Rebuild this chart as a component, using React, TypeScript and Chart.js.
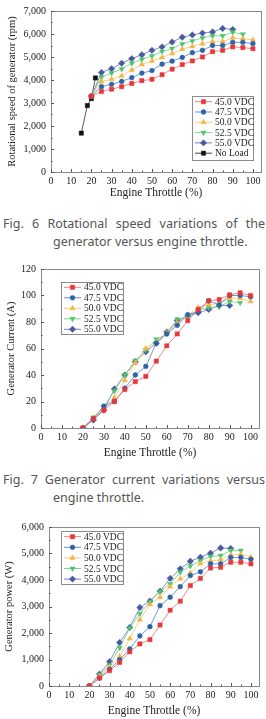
import React, { useEffect, useRef } from 'react';
import { Chart, registerables } from 'chart.js';
import { drawPoint } from 'chart.js/helpers';

Chart.register(...registerables);

// ---------- DATA ----------
const throttleNoLoad = [15, 18, 20, 22];
const throttle = [20, 25, 30, 35, 40, 45, 50, 55, 60, 65, 70, 75, 80, 85, 90, 95, 100];
const seriesLabels = ['45.0 VDC', '47.5 VDC', '50.0 VDC', '52.5 VDC', '55.0 VDC'];
const noLoadLabel = 'No Load';

// Fig. 6 rotational speed (rpm)
const rpmNoLoad = [1690, 2890, 3190, 4090];
const rpm450 = [3300, 3500, 3600, 3710, 3850, 3970, 4030, 4230, 4470, 4670, 4830, 5000, 5230, 5290, 5440, 5410, 5360];
const rpm475 = [3300, 3710, 3810, 3940, 4100, 4300, 4410, 4690, 4820, 4980, 5190, 5290, 5500, 5500, 5640, 5640, 5580];
const rpm500 = [3300, 3930, 4030, 4180, 4430, 4670, 4830, 4980, 5150, 5340, 5460, 5580, 5670, 5670, 5840, 5800, 5740];
const rpm525 = [3300, 4130, 4300, 4480, 4730, 4900, 5040, 5240, 5370, 5570, 5700, 5830, 5920, 5920, 6080, 5990];
const rpm550 = [3300, 4330, 4490, 4730, 4930, 5100, 5290, 5440, 5650, 5860, 5960, 6040, 6090, 6240, 6200];

// Fig. 7 generator current (A)
const cur450 = [0, 7, 13.5, 20, 29, 35, 39, 50.5, 62, 71, 81, 89.5, 96, 97, 100.5, 102, 100];
const cur475 = [0, 7, 16.5, 20, 30, 40, 46.5, 64, 71, 77.5, 85.5, 88, 96, 93, 100, 100, 99];
const cur500 = [0, 8, 15, 23, 36, 49, 60, 65, 72, 79, 85, 91, 93, 94, 98, 98, 95.5];
const cur525 = [0, 8, 16, 28, 40, 51, 59, 67, 71, 82, 84, 89, 91, 91.5, 95.5, 94.5];
const cur550 = [0, 6, 13.5, 29.5, 40, 50, 57.5, 64, 72.5, 81, 84.5, 87, 89.5, 92.5, 92.5];

// Fig. 8 generator power (W)
const pow450 = [0, 300, 580, 890, 1290, 1590, 1750, 2300, 2860, 3200, 3790, 4060, 4450, 4480, 4670, 4670, 4610];
const pow475 = [0, 300, 630, 990, 1400, 1890, 2240, 3030, 3350, 3750, 4170, 4310, 4610, 4610, 4850, 4850, 4780];
const pow500 = [0, 370, 710, 1120, 1790, 2500, 3080, 3350, 3750, 4050, 4260, 4620, 4720, 4770, 4940, 4970, 4860];
const pow525 = [0, 420, 780, 1440, 2190, 2730, 3180, 3570, 3850, 4290, 4530, 4730, 4890, 4920, 5110, 5110];
const pow550 = [0, 450, 920, 1640, 2210, 2960, 3210, 3580, 4060, 4420, 4710, 4860, 5010, 5210, 5190];

const xTickValues = [0, 10, 20, 30, 40, 50, 60, 70, 80, 90, 100];
const xTitle = 'Engine Throttle (%)';

// ---------- STYLES ----------
const styles = [
  { color: '#e8363a', line: 'rgba(240,120,120,0.95)', pointStyle: 'rect', rotation: 0, radius: 3 },
  { color: '#2c63a8', line: 'rgba(90,140,200,0.95)', pointStyle: 'circle', rotation: 0, radius: 2.4 },
  { color: '#f5b443', line: 'rgba(247,200,120,0.95)', pointStyle: 'triangle', rotation: 0, radius: 3 },
  { color: '#4cc46e', line: 'rgba(120,210,140,0.95)', pointStyle: 'triangle', rotation: 180, radius: 3 },
  { color: '#4a5a9e', line: 'rgba(110,125,185,0.95)', pointStyle: 'rectRot', rotation: 0, radius: 3.2 },
  { color: '#111111', line: 'rgba(60,60,60,0.95)', pointStyle: 'rect', rotation: 0, radius: 3 },
];

const SERIF = '"Liberation Serif", "Times New Roman", serif';

function ds(label: string, xs: number[], ys: number[], s: any) {
  return {
    label,
    data: ys.map((v, i) => ({ x: xs[i], y: v })),
    borderColor: s.line,
    borderWidth: 0.9,
    pointBackgroundColor: s.color,
    pointBorderColor: s.color,
    pointBorderWidth: 0.5,
    pointStyle: s.pointStyle,
    pointRotation: s.rotation,
    pointRadius: s.radius,
    tension: 0,
    fill: false,
  };
}

const framePlugin = {
  id: 'frameTicks',
  beforeDatasetsDraw(chart: any) {
    const { ctx, chartArea: a } = chart;
    const xs = chart.scales.x;
    const ys = chart.scales.y;
    ctx.save();
    ctx.strokeStyle = '#8a8a8a';
    ctx.lineWidth = 1;
    ctx.strokeRect(Math.round(a.left) + 0.5, Math.round(a.top) + 0.5, Math.round(a.right - a.left), Math.round(a.bottom - a.top));
    ctx.strokeStyle = '#555';
    ctx.beginPath();
    for (let v = 0; v <= 100; v += 5) {
      const px = Math.round(xs.getPixelForValue(v)) + 0.5;
      const len = v % 10 === 0 ? 3 : 1.5;
      ctx.moveTo(px, a.bottom);
      ctx.lineTo(px, a.bottom - len);
    }
    const step = ys.options.ticks.stepSize;
    for (let v = 0; v <= ys.max + 1e-9; v += step / 2) {
      const py = Math.round(ys.getPixelForValue(v)) + 0.5;
      const major = Math.abs((v / step) - Math.round(v / step)) < 1e-6;
      ctx.moveTo(a.left, py);
      ctx.lineTo(a.left + (major ? 3 : 1.5), py);
    }
    ctx.stroke();
    ctx.restore();
  },
};

const legendPlugin = {
  id: 'boxLegend',
  afterDraw(chart: any, _args: any, o: any) {
    const { ctx, chartArea: a } = chart;
    const bx = Math.round(a.left + o.dx);
    const by = Math.round(a.top + o.dy);
    ctx.save();
    ctx.fillStyle = '#ffffff';
    ctx.fillRect(bx, by, o.w, o.h);
    ctx.strokeStyle = '#8a8a8a';
    ctx.lineWidth = 1;
    ctx.strokeRect(bx + 0.5, by + 0.5, o.w, o.h);
    chart.data.datasets.forEach((d: any, i: number) => {
      const y = by + o.first + i * o.row;
      ctx.strokeStyle = d.borderColor;
      ctx.lineWidth = 1;
      ctx.beginPath();
      ctx.moveTo(bx + 3, y);
      ctx.lineTo(bx + 20, y);
      ctx.stroke();
      ctx.fillStyle = d.pointBackgroundColor;
      ctx.strokeStyle = d.pointBorderColor;
      ctx.lineWidth = 0.5;
      drawPoint(ctx, { pointStyle: d.pointStyle, rotation: d.pointRotation || 0, radius: d.pointRadius, borderWidth: 0.5 } as any, bx + 11.5, y);
      ctx.fillStyle = '#222';
      ctx.font = '9.5px ' + SERIF;
      ctx.textAlign = 'left';
      ctx.textBaseline = 'middle';
      ctx.fillText(d.label, bx + 23, y + 0.5);
    });
    ctx.restore();
  },
};

type Spec = {
  datasets: any[];
  yMax: number;
  yStep: number;
  yTitle: string;
  canvasTop: number;
  canvasH: number;
  plotLeft: number;
  plotRight: number;
  padTop: number;
  plotBottom: number;
  yTitlePad: number;
  xTitlePad: number;
  legend: { dx: number; dy: number; w: number; h: number; first: number; row: number };
};

function makeConfig(p: Spec): any {
  return {
    type: 'line',
    data: { datasets: p.datasets },
    plugins: [framePlugin, legendPlugin],
    options: {
      responsive: false,
      animation: false,
      devicePixelRatio: 1,
      layout: { padding: { top: p.padTop, right: 266 - p.plotRight, left: 0, bottom: 0 } },
      plugins: {
        legend: { display: false },
        tooltip: { enabled: false },
        boxLegend: p.legend,
      },
      scales: {
        x: {
          type: 'linear',
          min: 0,
          max: 104,
          grid: { display: false, drawTicks: false },
          border: { display: false },
          afterBuildTicks: (s: any) => {
            s.ticks = xTickValues.map((v) => ({ value: v }));
          },
          afterFit: (s: any) => {
            s.height = p.canvasH - p.plotBottom;
          },
          ticks: { stepSize: 10, padding: 3, color: '#222', font: { family: SERIF, size: 10 } },
          title: {
            display: true,
            text: xTitle,
            color: '#222',
            padding: { top: 0, bottom: p.xTitlePad },
            font: { family: SERIF, size: 11.5 },
          },
        },
        y: {
          type: 'linear',
          min: 0,
          max: p.yMax,
          grid: { display: false, drawTicks: false },
          border: { display: false },
          afterFit: (s: any) => {
            s.width = p.plotLeft;
          },
          ticks: { stepSize: p.yStep, padding: 5, color: '#222', font: { family: SERIF, size: 10 } },
          title: {
            display: true,
            text: p.yTitle,
            color: '#222',
            padding: { top: p.yTitlePad, bottom: 0 },
            font: { family: SERIF, size: 10.5 },
          },
        },
      },
    },
  };
}

function ChartCanvas({ spec }: { spec: Spec }) {
  const ref = useRef<HTMLCanvasElement | null>(null);
  useEffect(() => {
    if (!ref.current) return;
    const chart = new Chart(ref.current, makeConfig(spec));
    return () => chart.destroy();
  }, []);
  return (
    <canvas
      ref={ref}
      width={266}
      height={spec.canvasH}
      style={{ position: 'absolute', left: 0, top: spec.canvasTop, width: 266, height: spec.canvasH }}
    />
  );
}

const vdcSets = (arrs: number[][]) =>
  arrs.map((a, i) => ds(seriesLabels[i], throttle, a, styles[i]));

const spec1: Spec = {
  datasets: [
    ...vdcSets([rpm450, rpm475, rpm500, rpm525, rpm550]),
    ds(noLoadLabel, throttleNoLoad, rpmNoLoad, styles[5]),
  ],
  yMax: 7000,
  yStep: 1000,
  yTitle: 'Rotational speed of generator (rpm)',
  canvasTop: 0,
  canvasH: 200,
  plotLeft: 51,
  plotRight: 261,
  padTop: 10,
  plotBottom: 172,
  yTitlePad: 6,
  xTitlePad: 0,
  legend: { dx: 141, dy: 85, w: 61, h: 64, first: 5.7, row: 10.3 },
};

const spec2: Spec = {
  datasets: vdcSets([cur450, cur475, cur500, cur525, cur550]),
  yMax: 120,
  yStep: 20,
  yTitle: 'Generator Current (A)',
  canvasTop: 258,
  canvasH: 204,
  plotLeft: 41,
  plotRight: 259,
  padTop: 10,
  plotBottom: 170,
  yTitlePad: 4.5,
  xTitlePad: 2,
  legend: { dx: 20, dy: 13, w: 62, h: 52, first: 5.3, row: 10.5 },
};

const spec3: Spec = {
  datasets: vdcSets([pow450, pow475, pow500, pow525, pow550]),
  yMax: 6000,
  yStep: 1000,
  yTitle: 'Generator power (W)',
  canvasTop: 516,
  canvasH: 203,
  plotLeft: 49,
  plotRight: 259,
  padTop: 10,
  plotBottom: 170,
  yTitlePad: 2.5,
  xTitlePad: 1,
  legend: { dx: 12, dy: 4, w: 62, h: 53, first: 5.7, row: 10.6 },
};

const capFont: React.CSSProperties = {
  position: 'absolute',
  fontFamily: '"Noto Sans", sans-serif',
  fontSize: 12.5,
  lineHeight: '18px',
  color: '#555',
  whiteSpace: 'nowrap',
};

function Caption({ top, line1, line2 }: { top: number; line1: string; line2: string }) {
  return (
    <>
      <div style={{ ...capFont, left: 3, top, width: 262, textAlign: 'justify', textAlignLast: 'justify', whiteSpace: 'normal' } as any}>
        {line1}
      </div>
      <div style={{ ...capFont, left: 53, top: top + 18 }}>{line2}</div>
    </>
  );
}

export default function App() {
  return (
    <div style={{ position: 'absolute', left: 0, top: 0, width: 266, height: 719, background: '#fff', overflow: 'hidden' }}>
      <ChartCanvas spec={spec1} />
      <Caption top={215} line1="Fig. 6 Rotational speed variations of the" line2="generator versus engine throttle." />
      <ChartCanvas spec={spec2} />
      <Caption top={471} line1="Fig. 7 Generator current variations versus" line2="engine throttle." />
      <ChartCanvas spec={spec3} />
    </div>
  );
}
